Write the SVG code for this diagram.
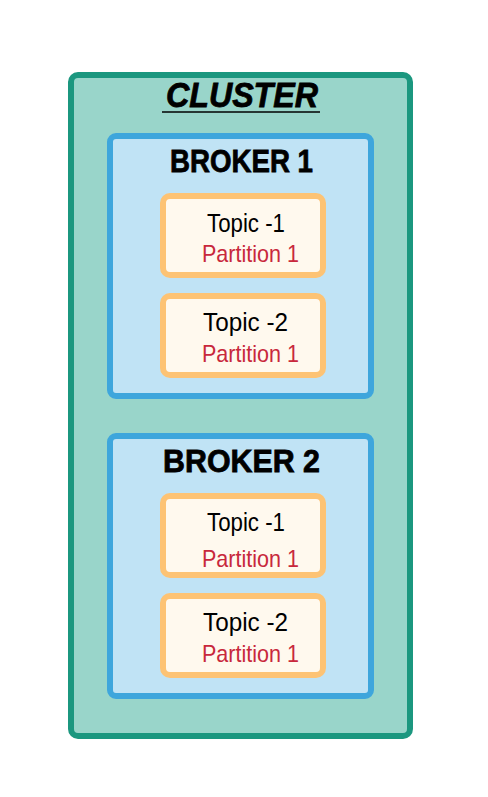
<svg xmlns="http://www.w3.org/2000/svg" width="488" height="797" viewBox="0 0 488 797">
<style>
.cluster{fill:#99d5ca;stroke:#1b977f;stroke-width:6}
.broker{fill:#c0e3f5;stroke:#3ea6dc;stroke-width:6}
.topic{fill:#fff9ee;stroke:#fdc374;stroke-width:6}
.h{font-family:"Liberation Sans",Arial,sans-serif;font-weight:bold;fill:#000;stroke:#000;stroke-width:0.8;text-anchor:middle}
.t{font-family:"Liberation Sans",Arial,sans-serif;font-size:25px;fill:#000;text-anchor:middle}
.p{font-family:"Liberation Sans",Arial,sans-serif;font-size:24px;fill:#c8283c;text-anchor:middle}
</style>
<rect width="488" height="797" fill="#ffffff"/>
<g id="cluster">
<rect class="cluster" x="71" y="75" width="339" height="661" rx="7"/>
<text class="h" x="242" y="107" font-size="35" font-style="italic" textLength="152" lengthAdjust="spacingAndGlyphs">CLUSTER</text>
<line x1="162" y1="112" x2="320" y2="112" stroke="#000" stroke-width="1.5"/>
</g>
<g id="broker1">
<rect class="broker" x="110" y="136" width="261" height="260" rx="6"/>
<text class="h" x="241.5" y="172" font-size="32" textLength="143" lengthAdjust="spacingAndGlyphs">BROKER 1</text>
</g>
<g id="b1-topic1">
<rect class="topic" x="163" y="196" width="160" height="79" rx="7"/>
<text class="t" x="246" y="232" textLength="78" lengthAdjust="spacingAndGlyphs">Topic -1</text>
<text class="p" x="250.5" y="262" textLength="97" lengthAdjust="spacingAndGlyphs">Partition 1</text>
</g>
<g id="b1-topic2">
<rect class="topic" x="163" y="296" width="160" height="79" rx="7"/>
<text class="t" x="245.5" y="331" textLength="85" lengthAdjust="spacingAndGlyphs">Topic -2</text>
<text class="p" x="250.5" y="362" textLength="97" lengthAdjust="spacingAndGlyphs">Partition 1</text>
</g>
<g id="broker2">
<rect class="broker" x="110" y="436" width="261" height="260" rx="6"/>
<text class="h" x="241.5" y="472" font-size="32" textLength="157" lengthAdjust="spacingAndGlyphs">BROKER 2</text>
</g>
<g id="b2-topic1">
<rect class="topic" x="163" y="496" width="160" height="79" rx="7"/>
<text class="t" x="246" y="531" textLength="78" lengthAdjust="spacingAndGlyphs">Topic -1</text>
<text class="p" x="250.5" y="567" textLength="97" lengthAdjust="spacingAndGlyphs">Partition 1</text>
</g>
<g id="b2-topic2">
<rect class="topic" x="163" y="596" width="160" height="79" rx="7"/>
<text class="t" x="245.5" y="631" textLength="85" lengthAdjust="spacingAndGlyphs">Topic -2</text>
<text class="p" x="250.5" y="662" textLength="97" lengthAdjust="spacingAndGlyphs">Partition 1</text>
</g>
<g id="connectors"></g>
</svg>
